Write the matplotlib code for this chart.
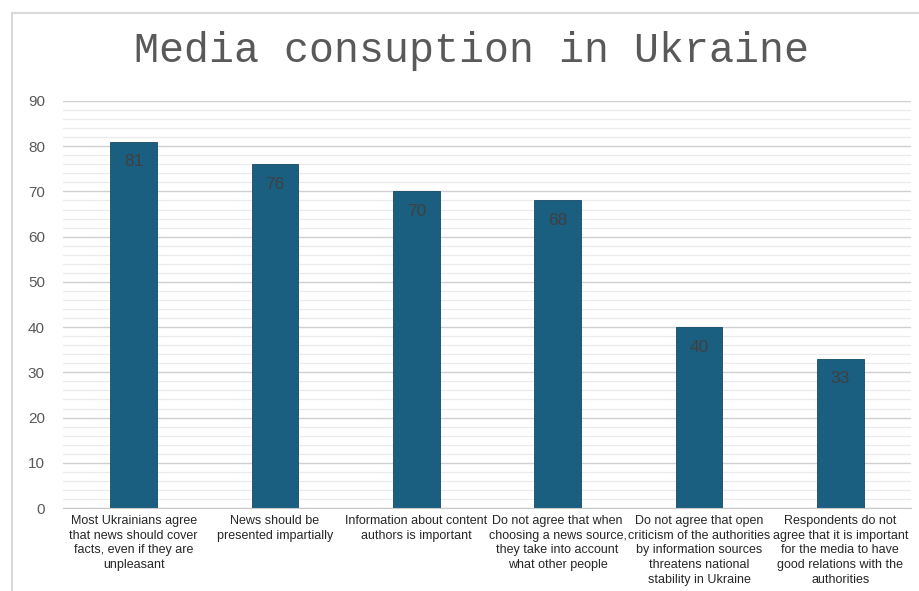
import matplotlib
matplotlib.use('Agg')
import matplotlib.pyplot as plt
from matplotlib.patches import Rectangle
from matplotlib.ticker import MultipleLocator

# data
categories = [
    'Most Ukrainians agree\nthat news should cover\nfacts, even if they are\nunpleasant',
    'News should be\npresented impartially',
    'Information about content\nauthors is important',
    'Do not agree that when\nchoosing a news source,\nthey take into account\nwhat other people',
    'Do not agree that open\ncriticism of the authorities\nby information sources\nthreatens national\nstability in Ukraine',
    'Respondents do not\nagree that it is important\nfor the media to have\ngood relations with the\nauthorities',
]
values = [81, 76, 70, 68, 40, 33]

bar_color = '#1a5e80'
text_color = '#404040'

fig = plt.figure(figsize=(9.2, 5.91), dpi=100)
plt.rcParams['font.family'] = ['Liberation Sans', 'DejaVu Sans']

# outer chart frame (cropped at right/bottom)
fig.patches.append(Rectangle((12 / 920, -0.1), 1.2, 1 - 13 / 591 + 0.1,
                             transform=fig.transFigure, fill=False,
                             edgecolor='#d9d9d9', linewidth=1.5))

ax = fig.add_axes([63 / 920, 1 - 508 / 591, (911 - 63) / 920, (508 - 101) / 591])
x = range(len(values))
bars = ax.bar(x, values, width=0.33, color=bar_color, edgecolor='#134a66', linewidth=0.6, zorder=3)

for xi, v in zip(x, values):
    ax.annotate(str(v), (xi, v), xytext=(0, -9), textcoords='offset points',
                ha='center', va='top', fontsize=12.5, color=text_color, zorder=4)

ax.set_xlim(-0.5, len(values) - 0.5)
ax.set_ylim(0, 90)
ax.yaxis.set_major_locator(MultipleLocator(10))
ax.yaxis.set_minor_locator(MultipleLocator(2))
ax.grid(axis='y', which='major', color='#d0d0d0', linewidth=1.0, zorder=0)
ax.grid(axis='y', which='minor', color='#ebebeb', linewidth=0.9, zorder=0)
ax.set_xticks(list(x))
ax.set_xticklabels(categories, fontsize=9, color='#262626', linespacing=1.3)
ax.tick_params(axis='x', length=0, pad=5)
ax.tick_params(axis='y', which='both', length=0, labelsize=11, labelcolor='#595959', pad=13)
for s in ['top', 'right', 'left']:
    ax.spines[s].set_visible(False)
ax.spines['bottom'].set_color('#c8c8c8')
ax.spines['bottom'].set_zorder(4)

fig.text(472 / 920, 1 - 51 / 591, 'Media consuption in Ukraine', ha='center', va='center',
         fontsize=30, color='#595959', family=['Liberation Mono', 'DejaVu Sans Mono'])

fig.savefig('out.png', dpi=100)
